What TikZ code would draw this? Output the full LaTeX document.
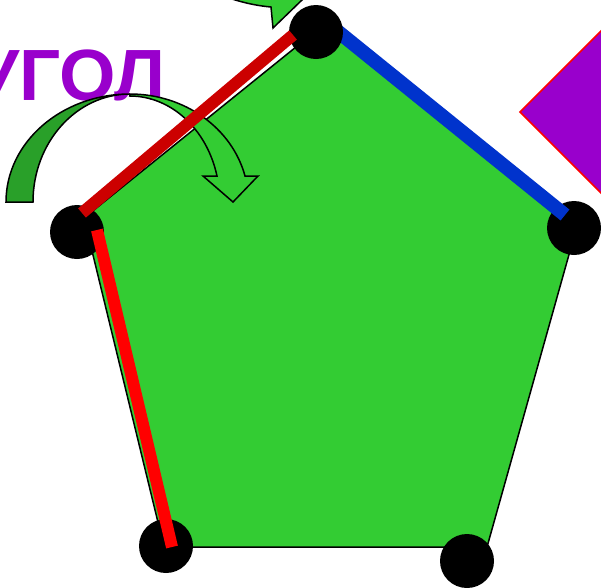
\documentclass[tikz,border=0pt]{standalone}
\usepackage{fontspec}
\setmainfont{Liberation Sans}
\definecolor{pgreen}{RGB}{51,204,51}
\definecolor{dgreen}{RGB}{41,160,41}
\definecolor{ppurple}{RGB}{153,0,204}
\definecolor{pblue}{RGB}{0,51,204}
\definecolor{dred}{RGB}{204,0,0}
\definecolor{bred}{RGB}{255,0,0}
\begin{document}
\begin{tikzpicture}[x=1pt,y=-1pt,
  dot/.style={circle,fill=black,minimum size=54pt,inner sep=0pt},
  thickline/.style={line width=12pt},
  outl/.style={draw=black,line width=1.5pt,line join=miter}]
\useasboundingbox (0,0) rectangle (601,587);
\clip (0,0) rectangle (601,587);
% title
\node[font=\fontsize{72.6}{80}\selectfont\bfseries, text=ppurple, anchor=base east, inner sep=0pt] (title) at (165.5,100) {УГОЛ};
% diamond
\fill[ppurple, draw=bred, line width=1.5pt] (520,112) -- (610,22) -- (700,112) -- (610,202) -- cycle;
% pentagon
\coordinate (pT) at (322,26);
\coordinate (pR) at (577,226);
\coordinate (pBR) at (487,547);
\coordinate (pBL) at (164,547);
\coordinate (pL) at (84,218);
\fill[pgreen, outl] (pT) -- (pR) -- (pBR) -- (pBL) -- (pL) -- cycle;
% curved arrow: back (dark) part
\fill[dgreen, outl] (6,202) arc[start angle=180, end angle=270, x radius=124, y radius=108]
  arc[start angle=270, end angle=180, x radius=97, y radius=108] -- cycle;
% front (light) part with head
\fill[pgreen, outl] (130,94) arc[start angle=270, end angle=346.1, x radius=118.5, y radius=108]
  -- (258,176) -- (233,202) -- (203,176) -- (217,176)
  arc[start angle=345.8, end angle=270, x radius=90, y radius=106] -- cycle;
% top arrow (partly outside)
\fill[pgreen, outl] (232,-1) .. controls (248,4) and (260,6) .. (271,7) -- (273,28) -- (303,-1);
% dots and coloured sides
\node[dot] (dR) at (574,228) {};
\node[dot] (dBR) at (467,561) {};
\node[dot] (dBL) at (166,546) {};
\node[dot] (dL) at (77,232) {};
\coordinate (b1) at (320,17);
\coordinate (b2) at (565,215);
\draw[line width=14pt, pblue] (b1) -- (b2);
\node[dot] (dT) at (316,32) {};
\coordinate (r1) at (293,35);
\coordinate (r2) at (82,213);
\coordinate (s1) at (97,230);
\coordinate (s2) at (172,547);
\draw[thickline, dred] (r1) -- (r2);
\draw[thickline, bred] (s1) -- (s2);
\end{tikzpicture}
\end{document}
